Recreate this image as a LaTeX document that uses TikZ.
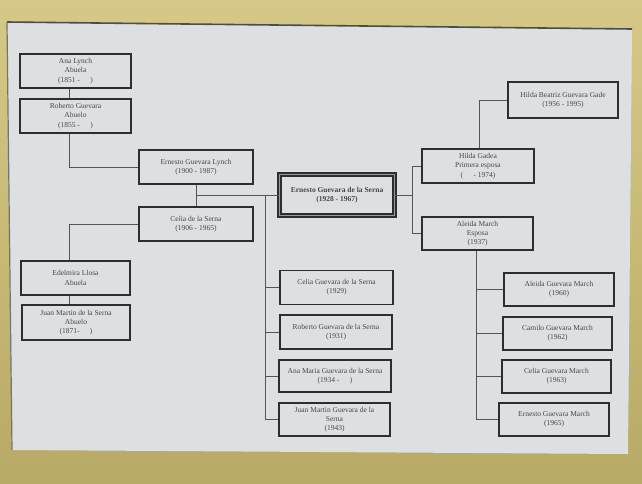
\documentclass[tikz,border=0pt]{standalone}
\usepackage{fontspec}
\setmainfont{Liberation Serif}
\definecolor{matTop}{HTML}{D6C886}
\definecolor{matBot}{HTML}{B8AA66}
\definecolor{paperc}{HTML}{DDE0E3}
\definecolor{boxc}{HTML}{2E2E2E}
\definecolor{textc}{HTML}{464646}
\definecolor{linec}{HTML}{555555}
\tikzset{
  person/.style={draw=boxc, line width=1.2pt, align=center, text=textc, inner sep=0pt,
    font=\fontsize{7.5}{9.2}\selectfont, minimum width=111pt, minimum height=34pt},
  mainperson/.style={person, double=black!40, double distance=1.3pt, line width=1.4pt,
    font=\fontsize{7.5}{9.2}\selectfont\bfseries, minimum width=115pt, minimum height=41pt},
  link/.style={draw=linec, line width=0.7pt}
}
\begin{document}
\begin{tikzpicture}[x=1pt,y=-1pt]
\useasboundingbox (0,0) rectangle (642,483);
\shade[top color=matTop, bottom color=matBot] (0,0) rectangle (642,483);
\fill[paperc] (7,22) -- (632,29) -- (628,454) -- (12,450) -- cycle;
\draw[line width=1.6pt, color=black!70] (7,22) -- (632,29);
\draw[line width=1.2pt, color=black!55] (7,22) -- (12,450);

% left: grandparents and parents
\node[person] (ana) at (75.5,71) {Ana Lynch\\Abuela\\(1851 -\hspace{1.4em})};
\node[person] (rob) at (75.5,116) {Roberto Guevara\\Abuelo\\(1855 -\hspace{1.4em})};
\node[person, minimum width=114pt] (lynch) at (196,167) {Ernesto Guevara Lynch\\(1900 - 1987)};
\node[person, minimum width=114pt] (celia) at (196,224) {Celia de la Serna\\(1906 - 1965)};
\node[person, minimum width=109pt] (edel) at (75.5,278) {Edelmira Llosa\\Abuela};
\node[person, minimum width=108pt, minimum height=35pt] (juanm) at (76,322.5) {Juan Martin de la Serna\\Abuelo\\(1871-\hspace{1.4em})};

% centre
\node[mainperson] (che) at (337,195) {Ernesto Guevara de la Serna\\(1928 - 1967)};
\node[person, minimum width=113pt] (c1) at (336.5,287.5) {Celia Guevara de la Serna\\(1929)};
\node[person, minimum width=112pt] (c2) at (336,332) {Roberto Guevara de la Serna\\(1931)};
\node[person, minimum width=112pt, minimum height=32pt] (c3) at (335,376) {Ana Maria Guevara de la Serna\\(1934 -\hspace{1.4em})};
\node[person, minimum width=111pt, minimum height=33pt] (c4) at (334.5,419.5) {Juan Martin Guevara de la\\Serna\\(1943)};

% right
\node[person, minimum width=112pt] (hilda) at (478,166) {Hilda Gadea\\Primera esposa\\(\hspace{1.4em}- 1974)};
\node[person, minimum width=110pt, minimum height=36pt] (hb) at (563,100) {Hilda Beatriz Guevara Gade\\(1956 - 1995)};
\node[person, minimum width=111pt, minimum height=33pt] (aleida) at (477.5,233.5) {Aleida March\\Esposa\\(1937)};
\node[person, minimum width=110pt, minimum height=33pt] (m1) at (559,289.5) {Aleida Guevara March\\(1960)};
\node[person, minimum width=109pt, minimum height=33pt] (m2) at (557.5,333.5) {Camilo Guevara March\\(1962)};
\node[person, minimum width=109pt, minimum height=33pt] (m3) at (556.5,376.5) {Celia Guevara March\\(1963)};
\node[person, minimum width=110pt, minimum height=33pt] (m4) at (554,419.5) {Ernesto Guevara March\\(1965)};

% junctions
\coordinate (pmid) at (196,195.5);
\coordinate (trunk) at (265,195.5);
\coordinate (rj) at (412,195);

% connectors left
\draw[link] ([xshift=-6.5pt]ana.south) -- ([xshift=-6.5pt]rob.north);
\draw[link] ([xshift=-6.5pt]rob.south) |- (lynch.west);
\draw[link] (lynch.south) -- (celia.north);
\draw[link] (pmid) -- (pmid -| che.west);
\draw[link] (celia.west) -| ([xshift=-6.5pt]edel.north);
\draw[link] ([xshift=-6.5pt]edel.south) -- ([xshift=-7pt]juanm.north);

% children of the parents
\draw[link] (trunk) |- (c4.west);
\draw[link] (trunk) |- (c1.west);
\draw[link] (trunk) |- (c2.west);
\draw[link] (trunk) |- (c3.west);

% spouses
\draw[link] (che.east) -- (rj);
\draw[link] (rj) |- (hilda.west);
\draw[link] (rj) |- (aleida.west);
\draw[link] ([xshift=1pt]hilda.north) |- (hb.west);

% children with Aleida
\draw[link] ([xshift=-1.5pt]aleida.south) |- (m4.west);
\draw[link] ([xshift=-1.5pt]aleida.south) |- (m1.west);
\draw[link] ([xshift=-1.5pt]aleida.south) |- (m2.west);
\draw[link] ([xshift=-1.5pt]aleida.south) |- (m3.west);
\end{tikzpicture}
\end{document}
